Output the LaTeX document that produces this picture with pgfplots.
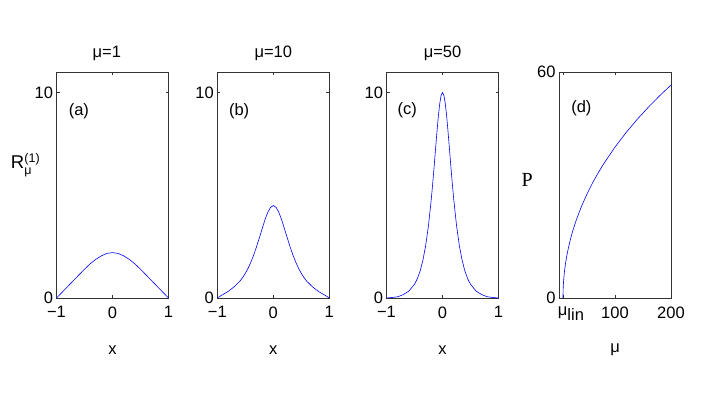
\documentclass[border=0pt]{standalone}
\usepackage{amsmath}
\usepackage{fontspec}
\setmainfont{Liberation Sans}
\newfontfamily\serif{Liberation Serif}
\usepackage{pgfplots}
\pgfplotsset{compat=1.18}
\newcommand\fs{\fontsize{16.5}{19}\selectfont}
\newcommand\fss{\fontsize{12.5}{13}\selectfont}

\pgfplotstableread{
x y
-1 0
-0.9 0.28
-0.8 0.56
-0.7 0.84
-0.6 1.12
-0.5 1.40
-0.4 1.66
-0.3 1.88
-0.2 2.05
-0.1 2.17
0 2.21
0.1 2.17
0.2 2.05
0.3 1.88
0.4 1.66
0.5 1.40
0.6 1.12
0.7 0.84
0.8 0.56
0.9 0.28
1 0
}\dataA

\pgfplotstableread{
x y
-1 0
-0.95 0.09
-0.9 0.17
-0.85 0.25
-0.8 0.33
-0.7 0.545
-0.6 0.81
-0.55 0.985
-0.5 1.20
-0.45 1.45
-0.4 1.75
-0.35 2.09
-0.3 2.49
-0.25 2.92
-0.2 3.36
-0.15 3.80
-0.1 4.16
-0.05 4.41
0 4.50
0.05 4.41
0.1 4.16
0.15 3.80
0.2 3.36
0.25 2.92
0.3 2.49
0.35 2.09
0.4 1.75
0.45 1.45
0.5 1.20
0.55 0.985
0.6 0.81
0.7 0.545
0.8 0.33
0.85 0.25
0.9 0.17
0.95 0.09
1 0
}\dataB

\pgfplotstableread{
x y
-1 0
-0.9 0.025
-0.8 0.06
-0.7 0.165
-0.6 0.338
-0.5 0.667
-0.45 0.935
-0.4 1.31
-0.35 1.84
-0.3 2.56
-0.25 3.54
-0.2 4.82
-0.175 5.57
-0.15 6.38
-0.125 7.23
-0.1 8.06
-0.075 8.83
-0.05 9.45
-0.025 9.86
0 10
0.025 9.86
0.05 9.45
0.075 8.83
0.1 8.06
0.125 7.23
0.15 6.38
0.175 5.57
0.2 4.82
0.25 3.54
0.3 2.56
0.35 1.84
0.4 1.31
0.45 0.935
0.5 0.667
0.6 0.338
0.7 0.165
0.8 0.06
0.9 0.025
1 0
}\dataC

\pgfplotstableread{
x y
7.1 0
7.3 1.95
7.6 3.07
8.1 4.33
9.1 6.11
10.1 7.47
12.1 9.63
15.1 12.14
20 15.37
25 18.05
30 20.36
40 24.29
50 27.63
60 30.58
70 33.24
80 35.68
100 40.07
120 43.96
140 47.49
160 50.73
180 53.74
200 56.56
}\dataD

\pgfplotsset{mstyle/.style={
  scale only axis, width=112pt, height=226pt, anchor=south west,
  axis line style={black!80, line width=0.6pt},
  tick style={black!80, line width=0.6pt},
  tick align=inside, tick pos=both, major tick length=3pt,
  tick label style={font=\fs},
  xticklabel style={yshift=-5pt},
  /pgf/number format/assume math mode=true,
  clip=false,
}}
\pgfplotsset{curvestyle/.style={
  mstyle, xmin=-1, xmax=1, ymin=0, ymax=11,
  xtick={-1,0,1}, xticklabels={−1,0,1}, ytick={0,10},
}}

\begin{document}
\begin{tikzpicture}
\path[use as bounding box] (0,0) rectangle (703pt,399pt);

\begin{axis}[curvestyle, at={(56.5pt,101pt)}]
\addplot[blue, no markers, line width=0.6pt] table[x=x,y=y] {\dataA};
\node[font=\fs] at (axis cs:-0.6,9.1) {(a)};
\node[font=\fs, anchor=base] at (rel axis cs:0.45,1) [yshift=14pt] {μ=1};
\node[font=\fs] at (rel axis cs:0.5,0) [yshift=-52pt] {x};
\node[anchor=base west, inner sep=0pt] at (rel axis cs:-0.41,0.575)
  {\fontsize{18.5}{19}\selectfont R\kern0.3pt\raisebox{-6pt}{\makebox[0pt][l]{\fss μ}}\raisebox{6pt}{\fss(1)}};
\end{axis}

\begin{axis}[curvestyle, at={(217.3pt,101pt)}]
\addplot[blue, no markers, line width=0.6pt] table[x=x,y=y] {\dataB};
\node[font=\fs] at (axis cs:-0.61,9.1) {(b)};
\node[font=\fs, anchor=base] at (rel axis cs:0.5,1) [yshift=14pt] {μ=10};
\node[font=\fs] at (rel axis cs:0.5,0) [yshift=-52pt] {x};
\end{axis}

\begin{axis}[curvestyle, at={(386.5pt,101pt)}]
\addplot[blue, no markers, line width=0.6pt] table[x=x,y=y] {\dataC};
\node[font=\fs] at (axis cs:-0.63,9.15) {(c)};
\node[font=\fs, anchor=base] at (rel axis cs:0.5,1) [yshift=14pt] {μ=50};
\node[font=\fs] at (rel axis cs:0.5,0) [yshift=-52pt] {x};
\end{axis}

\begin{axis}[mstyle, at={(559pt,101pt)}, xmin=0, xmax=200, ymin=0, ymax=60,
  xtick={7,100,200}, xticklabels={\makebox[0pt][l]{\hspace{-5pt}μ\raisebox{-5pt}{lin}},100,200}, ytick={0,60}]
\addplot[blue, no markers, line width=0.6pt] table[x=x,y=y] {\dataD};
\node[font=\fs] at (axis cs:40,50.5) {(d)};
\node[font=\fs] at (rel axis cs:0.5,0) [yshift=-52pt] {μ};
\node at (rel axis cs:-0.284,0.522) {\fontsize{20}{22}\selectfont\serif P};
\end{axis}
\end{tikzpicture}
\end{document}
